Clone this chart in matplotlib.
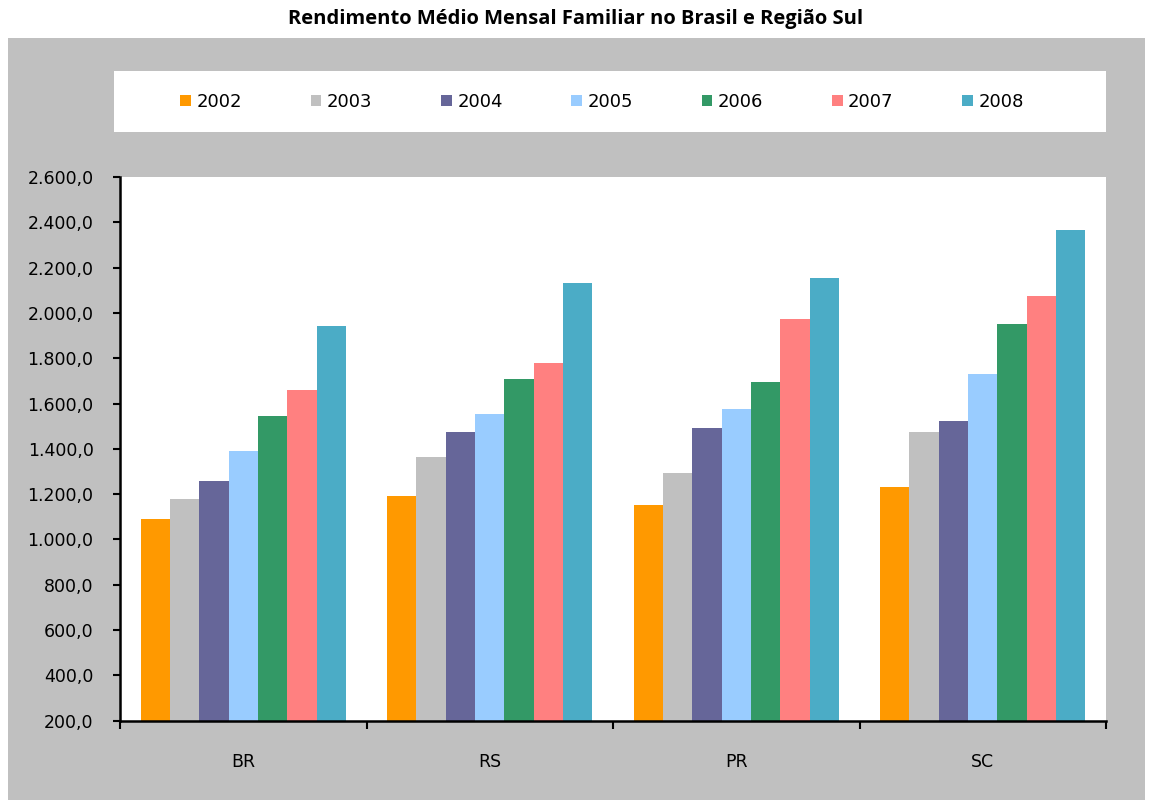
import matplotlib
matplotlib.use("Agg")
import matplotlib.pyplot as plt
from matplotlib.patches import Rectangle
import numpy as np

plt.rcParams["font.family"] = ["DejaVu Sans"]

# data
regions = ["BR", "RS", "PR", "SC"]
years = ["2002", "2003", "2004", "2005", "2006", "2007", "2008"]
v2002 = [1090, 1190, 1150, 1232]
v2003 = [1180, 1362, 1292, 1476]
v2004 = [1260, 1473, 1493, 1524]
v2005 = [1392, 1555, 1575, 1729]
v2006 = [1545, 1708, 1697, 1952]
v2007 = [1660, 1779, 1973, 2075]
v2008 = [1942, 2133, 2154, 2366]
yticks = list(range(200, 2601, 200))

series = [v2002, v2003, v2004, v2005, v2006, v2007, v2008]
colors = ["#FF9900", "#C0C0C0", "#666699", "#99CCFF", "#339966", "#FF8080", "#4BACC6"]

W, H = 1152, 805
fig = plt.figure(figsize=(W / 100, H / 100), dpi=100)
fig.patch.set_facecolor("white")

# gray chart area and white legend box
fig.patches.append(Rectangle((8 / W, 1 - 800 / H), (1145 - 8) / W, (800 - 38) / H,
                             transform=fig.transFigure, facecolor="#C0C0C0",
                             edgecolor="none", zorder=-2))
fig.patches.append(Rectangle((114 / W, 1 - 132 / H), (1106 - 114) / W, (132 - 71) / H,
                             transform=fig.transFigure, facecolor="white",
                             edgecolor="none", zorder=-1))

fig.text(0.5, 1 - 19 / H, "Rendimento Médio Mensal Familiar no Brasil e Região Sul",
         ha="center", va="center", fontsize=14.5, fontweight="bold", family="Open Sans")

ax = fig.add_axes([120 / W, 1 - 720.7 / H, (1106 - 120) / W, (720.7 - 177) / H])
ax.set_zorder(2)
ax.set_facecolor("white")

x = np.arange(len(regions))
group = 0.833
bw = group / len(series)
for i, (vals, c, yr) in enumerate(zip(series, colors, years)):
    ax.bar(x - group / 2 + bw * (i + 0.5), np.array(vals) - 200, bottom=200,
           width=bw, color=c, edgecolor="none", label=yr)

ax.set_xlim(-0.5, len(regions) - 0.5)
ax.set_ylim(200, 2600)
ax.set_yticks(yticks)
ax.set_yticklabels([f"{v:,.1f}".replace(",", "X").replace(".", ",").replace("X", ".")
                    for v in yticks])
ax.set_xticks(x)
ax.set_xticklabels(regions)
ax.set_xticks(np.arange(-0.5, len(regions), 1), minor=True)
ax.tick_params(axis="x", which="major", length=0, pad=23, labelsize=12.5)
ax.tick_params(axis="x", which="minor", length=6, width=1.5, direction="out")
ax.tick_params(axis="y", length=5, width=1.5, pad=14, labelsize=12.5)
for s in ["top", "right"]:
    ax.spines[s].set_visible(False)
for s in ["left", "bottom"]:
    ax.spines[s].set_linewidth(1.8)
    ax.spines[s].set_color("black")

handles, labels = ax.get_legend_handles_labels()
leg = fig.legend(handles, labels, loc="center", bbox_to_anchor=(602 / W, 1 - 102 / H),
                 ncol=7, frameon=False, fontsize=13, handlelength=0.6, handleheight=0.6,
                 handletextpad=0.3, columnspacing=3.8)
leg.set_zorder(3)

fig.savefig("out.png", dpi=100, facecolor=fig.get_facecolor())
